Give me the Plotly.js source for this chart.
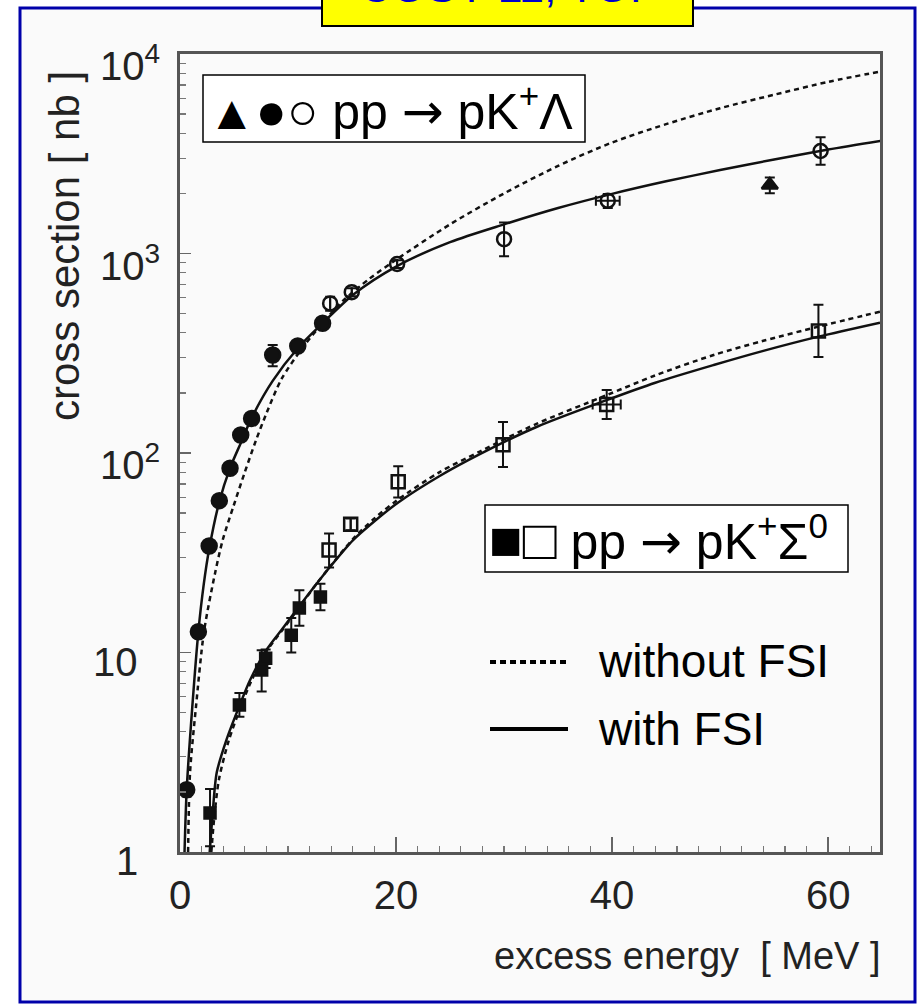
<!DOCTYPE html>
<html><head><meta charset="utf-8">
<script src="https://cdn.plot.ly/plotly-3.0.1.min.js"></script>
<style>html,body{margin:0;padding:0;background:#fff}</style>
</head><body>
<div id="chart" style="width:920px;height:1006px"></div>
<script>
// ---------- data ----------
// pp -> pK+ Lambda : filled circles
const lamFillX = [0.62, 1.7, 2.7, 3.64, 4.63, 5.62, 6.63, 8.58, 10.9, 13.2];
const lamFillY = [2.05, 12.7, 34.2, 57.7, 83.8, 123, 149, 310, 344, 447];
const lamFillErr = [0.15, 0.8, 2, 3, 4, 6, 7, 38, 15, 20];
// pp -> pK+ Lambda : open circles
const lamOpenX = [13.9, 15.9, 20.1, 30, 39.6, 59.3];
const lamOpenY = [562, 640, 886, 1180, 1840, 3265];
const lamOpenErrUp = [45, 30, 40, 250, 150, 560];
const lamOpenErrDn = [45, 30, 40, 210, 150, 480];
const lamOpenErrX = [0, 0, 0, 0, 1.1, 0];
// pp -> pK+ Lambda : filled triangle
const lamTriX = [54.6];
const lamTriY = [2205];
const lamTriErr = [200];
// pp -> pK+ Sigma0 : filled squares
const sigFillX = [2.78, 5.5, 7.56, 7.93, 10.3, 11.05, 13.0];
const sigFillY = [1.57, 5.46, 8.17, 9.35, 12.2, 16.7, 19.0];
const sigFillErrUp = [0.5, 0.8, 2.1, 1.0, 2.7, 3.8, 3.1];
const sigFillErrDn = [0.5, 0.7, 1.8, 1.0, 2.2, 3.1, 2.7];
// pp -> pK+ Sigma0 : open squares
const sigOpenX = [13.8, 15.8, 20.2, 29.9, 39.5, 59.1];
const sigOpenY = [32.6, 44, 71.8, 110, 175, 409];
const sigOpenErrUp = [6.9, 3, 14, 33, 32, 144];
const sigOpenErrDn = [5.9, 3, 12, 25, 27, 106];
const sigOpenErrX = [0, 0, 0, 0, 1.3, 0];
// model curves: with FSI (solid) and without FSI (dotted)
const lamFsiX = [0.42, 0.62, 1.14, 1.7, 2.2, 2.7, 3.64, 4.63, 5.62, 6.63, 8.58, 10.9, 13.2, 16, 20, 25, 30, 35, 40, 45, 50, 55, 60, 65];
const lamFsiY = [1, 2.05, 5.35, 12.7, 22, 33, 57, 84, 112, 150, 230, 335, 447, 620, 860, 1140, 1400, 1690, 1990, 2300, 2620, 2960, 3320, 3680];
const lamNoX = [0.75, 0.93, 1.48, 2.22, 3.24, 3.95, 4.94, 5.96, 7.04, 8.0, 9.4, 11.4, 13.3, 15.1, 17.5, 20, 25, 30, 35, 40, 45, 50, 55, 60, 65];
const lamNoY = [1, 2.5, 5.35, 12.7, 24.9, 36.6, 53.9, 79, 116, 158, 235, 340, 455, 580, 745, 930, 1400, 2000, 2750, 3600, 4450, 5350, 6250, 7250, 8200];
const sigFsiX = [2.75, 3.0, 3.4, 4.3, 5.5, 6.5, 8.0, 9.5, 11.1, 12.5, 13.9, 16, 18, 20.2, 24, 27.8, 33, 39.5, 44, 49.4, 54, 59.1, 64.8];
const sigFsiY = [1, 1.5, 2.5, 3.65, 5.4, 7.3, 10.3, 13.2, 17.2, 21.6, 26.9, 36.5, 45.5, 56.5, 76.5, 99, 135, 184, 225, 276, 325, 383, 450];
const sigNoX = [2.9, 3.15, 3.6, 4.5, 5.6, 6.6, 8.0, 9.5, 11.1, 12.5, 13.9, 16, 18, 20.2, 24, 27.8, 33, 39.5, 44, 49.4, 54, 59.1, 64.8];
const sigNoY = [1, 1.45, 2.3, 3.6, 5.3, 7.2, 10.1, 13.0, 17.0, 21.6, 27, 37, 47, 58.5, 80, 102, 140, 195, 245, 310, 365, 430, 511];
// axis ticks
const xTicks = [0, 20, 40, 60];
const yTicks = [1, 10, 100, 1000, 10000];
const yTickText = ['1', '10', '10<sup>2</sup>', '10<sup>3</sup>', '10<sup>4</sup>'];

// ---------- layout helpers ----------
const ML = 180, MT = 54, PW = 700, PH = 798;
const px = p => (p - ML) / PW;
const py = p => (MT + PH - p) / PH;
const FONT = 'Liberation Sans, Arial, Helvetica, sans-serif';
const INK = '#111';
const ARROW = '<span style="font-family:DejaVu Sans;font-size:50px">→</span>';

const minorY = [];
for (let d = 1; d < 10000; d *= 10) for (let k = 2; k <= 9; k++) minorY.push(k * d);

function curve(x, y, dash) {
  return {x, y, type: 'scatter', mode: 'lines', hoverinfo: 'skip',
    line: {color: INK, width: 2.5, shape: 'spline', smoothing: 0.8, dash: dash || 'solid'}};
}
function pts(x, y, symbol, size, up, dn, ex) {
  const t = {x, y, type: 'scatter', mode: 'markers',
    marker: {symbol, size, color: INK, line: {color: INK, width: 2.5}},
    error_y: {type: 'data', symmetric: false, array: up, arrayminus: dn || up, color: INK, thickness: 2, width: 5}};
  if (ex) t.error_x = {type: 'data', array: ex, color: INK, thickness: 2, width: 5};
  return t;
}

const traces = [
  curve(lamFsiX, lamFsiY), curve(lamNoX, lamNoY, '5px,4px'),
  curve(sigFsiX, sigFsiY), curve(sigNoX, sigNoY, '5px,4px'),
  pts(lamFillX, lamFillY, 'circle', 15, lamFillErr),
  pts(lamOpenX, lamOpenY, 'circle-open', 14, lamOpenErrUp, lamOpenErrDn, lamOpenErrX),
  pts(lamTriX, lamTriY, 'triangle-up', 14, lamTriErr),
  pts(sigFillX, sigFillY, 'square', 11, sigFillErrUp, sigFillErrDn),
  pts(sigOpenX, sigOpenY, 'square-open', 13, sigOpenErrUp, sigOpenErrDn, sigOpenErrX)
];

const annotations = [
  {text: 'COSY-11, TOF', xref: 'paper', yref: 'paper', x: px(507.5), y: py(14), xanchor: 'center', yanchor: 'bottom',
   showarrow: false, font: {family: FONT, size: 45, color: '#0000cc'}},
  {text: '<span style="font-size:48px">▲</span><span style="font-size:52px">●○</span> pp ' + ARROW + ' pK<sup>+</sup>Λ',
   xref: 'paper', yref: 'paper', x: px(206), y: py(108), xanchor: 'left', yanchor: 'middle',
   showarrow: false, font: {family: FONT, size: 50, color: '#000'}},
  {text: '<span style="font-size:56px">■□</span> pp ' + ARROW + ' pK<sup>+</sup>Σ<sup>0</sup>',
   xref: 'paper', yref: 'paper', x: px(487), y: py(538), xanchor: 'left', yanchor: 'middle',
   showarrow: false, font: {family: FONT, size: 50, color: '#000'}},
  {text: 'without FSI', xref: 'paper', yref: 'paper', x: px(596), y: py(661), xanchor: 'left', yanchor: 'middle',
   showarrow: false, font: {family: FONT, size: 46, color: '#000'}},
  {text: 'with FSI', xref: 'paper', yref: 'paper', x: px(596), y: py(729), xanchor: 'left', yanchor: 'middle',
   showarrow: false, font: {family: FONT, size: 46, color: '#000'}},
  {text: 'excess energy &nbsp;[ MeV ]', xref: 'paper', yref: 'paper', x: px(883), y: py(956), xanchor: 'right', yanchor: 'middle',
   showarrow: false, font: {family: FONT, size: 38, color: '#222'}},
  {text: 'cross section [ nb ]', xref: 'paper', yref: 'paper', x: px(64), y: py(246), xanchor: 'center', yanchor: 'middle',
   textangle: -90, showarrow: false, font: {family: FONT, size: 42, color: '#222'}}
];
yTicks.forEach((v, i) => {
  const sup = yTickText[i].indexOf('sup') >= 0;
  annotations.push({text: yTickText[i], xref: 'paper', yref: 'y', x: px(sup ? 98 : 140), y: Math.log10(v),
    xanchor: sup ? 'left' : 'right', yanchor: 'middle', yshift: -9, showarrow: false,
    font: {family: FONT, size: 40, color: '#222'}});
});

const shapes = [
  {type: 'rect', xref: 'paper', yref: 'paper', x0: px(20), x1: px(915), y0: py(1002), y1: py(8),
   line: {color: '#0000aa', width: 3}, fillcolor: '#fafafa', layer: 'below'},
  {type: 'rect', xref: 'paper', yref: 'paper', x0: px(322), x1: px(693), y0: py(26), y1: py(-20),
   line: {color: '#000', width: 2}, fillcolor: '#ffff00', layer: 'above'},
  {type: 'rect', xref: 'paper', yref: 'paper', x0: px(203), x1: px(585), y0: py(142), y1: py(75),
   line: {color: '#000', width: 1.5}, fillcolor: '#fff', layer: 'above'},
  {type: 'rect', xref: 'paper', yref: 'paper', x0: px(485), x1: px(848), y0: py(572), y1: py(505),
   line: {color: '#000', width: 1.5}, fillcolor: '#fff', layer: 'above'},
  {type: 'line', xref: 'paper', yref: 'paper', x0: px(490), x1: px(568), y0: py(662), y1: py(662),
   line: {color: '#000', width: 4, dash: '6px,4px'}},
  {type: 'line', xref: 'paper', yref: 'paper', x0: px(490), x1: px(568), y0: py(729), y1: py(729),
   line: {color: '#000', width: 4}}
];

const axisCommon = {showline: true, linecolor: '#555', linewidth: 3, mirror: true, showgrid: false, zeroline: false,
  ticks: 'inside', tickcolor: '#666', tickwidth: 1.5};

const layout = {
  width: 920, height: 1006, showlegend: false,
  margin: {l: ML, r: 920 - ML - PW, t: MT, b: 1006 - MT - PH, pad: 0},
  paper_bgcolor: '#ffffff', plot_bgcolor: '#fafafa',
  xaxis: Object.assign({}, axisCommon, {range: [0, 64.8], tickmode: 'array', tickvals: xTicks,
    ticklen: 15, ticklabelstandoff: 6,
    tickfont: {family: FONT, size: 40, color: '#222'},
    minor: {dtick: 2, ticks: 'inside', ticklen: 6, tickcolor: '#777', tickwidth: 1.2}}),
  yaxis: Object.assign({}, axisCommon, {type: 'log', range: [0, 4], tickmode: 'array', tickvals: yTicks,
    showticklabels: false, ticklen: 11,
    minor: {tickmode: 'array', tickvals: minorY, ticks: 'inside', ticklen: 6, tickcolor: '#777', tickwidth: 1.2}}),
  annotations, shapes
};

Plotly.newPlot('chart', traces, layout, {staticPlot: true});
</script>
</body></html>
